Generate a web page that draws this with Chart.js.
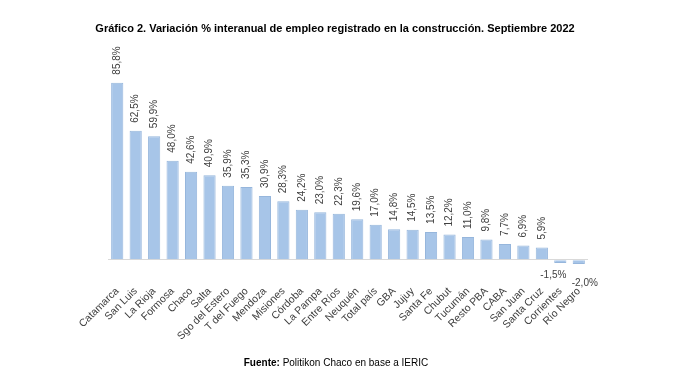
<!DOCTYPE html>
<html>
<head>
<meta charset="utf-8">
<script src="https://cdn.jsdelivr.net/npm/chart.js@4"></script>
<style>
  html, body { margin: 0; padding: 0; background: #fff; }
  #wrap { width: 688px; height: 391px; position: relative; }
</style>
</head>
<body>
<div id="wrap"><canvas id="grafico"></canvas></div>
<script>
const regiones = ["Catamarca", "San Luis", "La Rioja", "Formosa", "Chaco", "Salta", "Sgo del Estero",
    "T del Fuego", "Mendoza", "Misiones", "Córdoba", "La Pampa", "Entre Ríos", "Neuquén", "Total país",
    "GBA", "Jujuy", "Santa Fe", "Chubut", "Tucumán", "Resto PBA", "CABA", "San Juan", "Santa Cruz",
    "Corrientes", "Río Negro"];
const variacion = [85.8, 62.5, 59.9, 48.0, 42.6, 40.9, 35.9, 35.3, 30.9, 28.3, 24.2, 23.0, 22.3,
    19.6, 17.0, 14.8, 14.5, 13.5, 12.2, 11.0, 9.8, 7.7, 6.9, 5.9, -1.5, -2.0];
const titulo = "Gráfico 2. Variación % interanual de empleo registrado en la construcción. Septiembre 2022";
const fuenteEtiqueta = "Fuente:";
const fuenteTexto = " Politikon Chaco en base a IERIC";

const fuente = "'Liberation Sans', Arial, sans-serif";

function formato(v) {
    return v.toFixed(1).replace(".", ",") + "%";
}

// etiquetas de valor sobre cada barra
const etiquetasValor = {
    id: "etiquetasValor",
    afterDatasetsDraw(chart) {
        const ctx = chart.ctx;
        const meta = chart.getDatasetMeta(0);
        ctx.save();
        ctx.font = "10px " + fuente;
        ctx.fillStyle = "#404040";
        let neg = 0;
        meta.data.forEach((bar, i) => {
            const v = variacion[i];
            if (v >= 0) {
                ctx.save();
                ctx.translate(bar.x, bar.y - 8);
                ctx.rotate(-Math.PI / 2);
                ctx.textAlign = "left";
                ctx.textBaseline = "middle";
                ctx.fillText(formato(v), 0, 0);
                ctx.restore();
            } else {
                ctx.textAlign = "center";
                ctx.textBaseline = "middle";
                const dx = neg === 0 ? -7 : 6;
                const dy = neg === 0 ? 12 : 19;
                ctx.fillText(formato(v), bar.x + dx, bar.y + dy);
                neg++;
            }
        });
        ctx.restore();
    }
};

// nota de fuente al pie
const pieFuente = {
    id: "pieFuente",
    afterDraw(chart) {
        const ctx = chart.ctx;
        ctx.save();
        ctx.fillStyle = "#000";
        ctx.textBaseline = "middle";
        ctx.textAlign = "left";
        ctx.font = "bold 10px " + fuente;
        const w1 = ctx.measureText(fuenteEtiqueta).width;
        ctx.font = "10px " + fuente;
        const w2 = ctx.measureText(fuenteTexto).width;
        const x0 = 336 - (w1 + w2) / 2;
        ctx.font = "bold 10px " + fuente;
        ctx.fillText(fuenteEtiqueta, x0, 363);
        ctx.font = "10px " + fuente;
        ctx.fillText(fuenteTexto, x0 + w1, 363);
        ctx.restore();
    }
};

new Chart(document.getElementById("grafico"), {
    type: "bar",
    data: {
        labels: regiones,
        datasets: [{
            data: variacion,
            backgroundColor: "#a7c5e8",
            borderColor: "#96b6dc",
            borderWidth: 1,
            barPercentage: 0.66,
            categoryPercentage: 1.0,
        }]
    },
    options: {
        responsive: true,
        maintainAspectRatio: false,
        animation: false,
        layout: {
            padding: { left: 82, right: 100, top: 10, bottom: 30 }
        },
        plugins: {
            legend: { display: false },
            tooltip: { enabled: false },
            title: {
                display: true,
                text: titulo,
                color: "#000",
                font: { family: fuente, size: 11, weight: "bold" },
                padding: { top: 12, bottom: 14 },
            },
        },
        scales: {
            x: {
                grid: { display: false },
                border: { display: false },
                ticks: {
                    color: "#404040",
                    font: { family: fuente, size: 10.5 },
                    maxRotation: 45,
                    minRotation: 45,
                    autoSkip: false,
                    padding: 11,
                },
                afterFit(scale) { scale.height = 95; },
            },
            y: {
                display: true,
                min: -3,
                max: 102,
                ticks: { display: false, stepSize: 1 },
                border: { display: false },
                grid: {
                    drawTicks: false,
                    color: ctx => ctx.tick && ctx.tick.value === 0 ? "#d9d9d9" : "rgba(0,0,0,0)",
                    lineWidth: 1,
                },
                afterFit(scale) { scale.width = 26; },
            }
        }
    },
    plugins: [etiquetasValor, pieFuente]
});
</script>
</body>
</html>
